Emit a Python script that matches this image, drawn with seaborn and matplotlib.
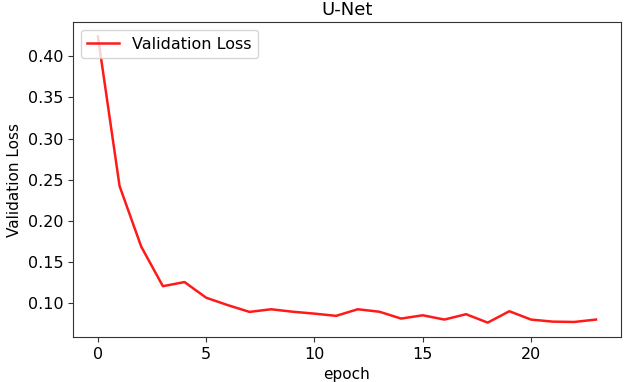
import matplotlib
matplotlib.use("Agg")
import matplotlib.pyplot as plt
import seaborn as sns
import pandas as pd

epochs = list(range(24))
val_loss = [0.424, 0.2425, 0.169, 0.121, 0.126, 0.107, 0.098, 0.0898, 0.093, 0.090,
            0.0877, 0.085, 0.093, 0.090, 0.0817, 0.0857, 0.0805, 0.087, 0.0768, 0.0906,
            0.0805, 0.078, 0.0776, 0.0805]

df = pd.DataFrame({"epoch": epochs, "Validation Loss": val_loss})

plt.rcParams['font.family'] = ['DejaVu Sans']
fig = plt.figure(figsize=(6.24, 3.82), dpi=100)
ax = fig.add_axes([0.117, 0.118, 0.878, 0.824])
sns.lineplot(data=df, x="epoch", y="Validation Loss", color="#ff1a1a", linewidth=1.8,
             label="Validation Loss", ax=ax)
ax.set_title("U-Net", fontsize=13, pad=5)
ax.set_xlabel("epoch", fontsize=11)
ax.set_ylabel("Validation Loss", fontsize=11)
ax.set_xticks([0, 5, 10, 15, 20])
ax.set_yticks([0.10, 0.15, 0.20, 0.25, 0.30, 0.35, 0.40])
ax.tick_params(labelsize=11.5, color="#333333")
for s in ax.spines.values():
    s.set_color("#333333")
ax.legend(loc="upper left", fontsize=11.5)
fig.savefig("out.png", dpi=100)
